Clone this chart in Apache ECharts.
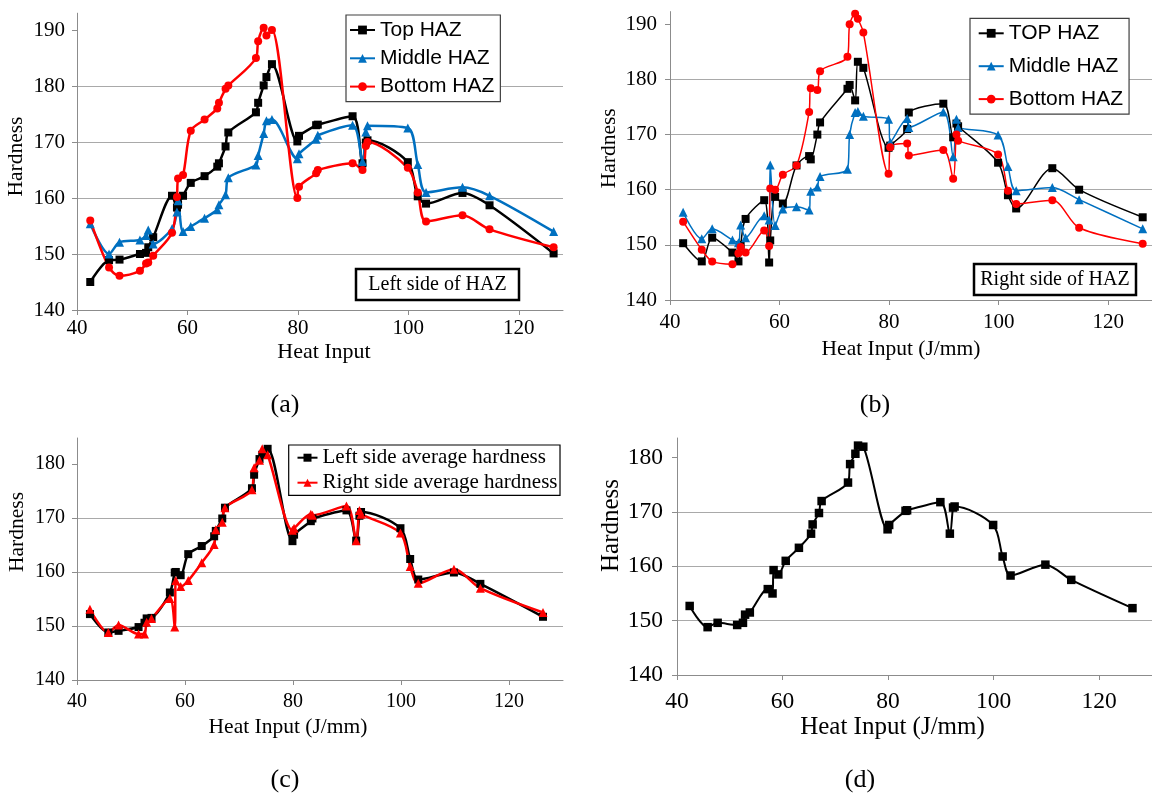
<!DOCTYPE html>
<html>
<head>
<meta charset="utf-8">
<title>HAZ hardness vs heat input</title>
<style>
  html, body { margin: 0; padding: 0; background: #fff; }
  #main { width: 1152px; height: 801px; }
</style>
</head>
<body>
<div id="main"></div>
<script src="https://cdn.jsdelivr.net/npm/echarts@6/dist/echarts.min.js"></script>
<script>
// heat input (J/mm) of the welds, shared by every curve
var heatInput = [42.4, 45.8, 47.7, 51.4, 52.5, 52.9, 53.8, 57.2, 58.1, 58.3, 59.2, 60.6, 63.1, 65.4, 65.7, 66.9, 67.4, 72.4, 72.8, 73.8, 74.3, 75.3, 79.9, 80.2, 83.3, 83.6, 89.9, 91.7, 92.3, 92.6, 99.9, 101.7, 103.2, 109.8, 114.7, 126.3];

// (a) left side of HAZ
var leftTop    = [145.0, 148.9, 149.0, 150.0, 150.2, 151.2, 153.0, 160.4, 158.3, 158.8, 160.4, 162.7, 163.9, 165.6, 166.2, 169.2, 171.7, 175.3, 177.0, 180.1, 181.6, 183.9, 170.1, 171.1, 173.0, 173.1, 174.6, 166.2, 169.9, 170.3, 166.4, 160.3, 159.0, 160.9, 158.7, 150.1];
var leftMiddle = [155.4, 150.0, 152.1, 152.5, 153.3, 154.3, 151.8, 154.5, 157.5, 159.5, 154.0, 154.9, 156.4, 157.9, 158.8, 160.6, 163.6, 165.9, 167.6, 171.5, 173.8, 174.0, 167.0, 167.9, 170.5, 171.2, 173.0, 166.5, 171.8, 172.9, 172.5, 166.0, 161.0, 161.9, 160.4, 154.0];
var leftBottom = [156.0, 147.6, 146.1, 147.0, 148.3, 148.5, 149.7, 153.8, 160.2, 163.5, 164.1, 172.0, 174.0, 176.0, 177.0, 179.5, 180.1, 185.0, 188.0, 190.4, 189.0, 190.0, 160.0, 162.0, 164.4, 165.0, 166.2, 165.0, 169.3, 170.0, 165.4, 161.0, 155.8, 156.9, 154.4, 151.2];

// (b) right side of HAZ
var rightTop    = [150.3, 147.0, 151.3, 148.6, 147.0, 150.0, 154.7, 158.1, 146.8, 150.8, 158.7, 157.5, 164.4, 166.1, 165.5, 170.0, 172.2, 178.3, 179.0, 176.2, 183.2, 182.1, 167.6, 168.0, 171.0, 174.0, 175.6, 169.5, 172.0, 171.5, 164.9, 159.0, 156.6, 163.9, 160.0, 155.0];
var rightMiddle = [155.9, 151.1, 152.9, 150.9, 150.4, 153.6, 151.3, 155.3, 154.5, 164.5, 153.5, 156.5, 156.9, 156.3, 159.7, 160.5, 162.4, 163.7, 170.0, 174.0, 174.2, 173.3, 172.8, 168.6, 172.9, 171.3, 174.1, 166.0, 172.8, 171.3, 169.9, 164.2, 159.8, 160.4, 158.2, 152.9];
var rightBottom = [154.2, 149.1, 147.0, 146.5, 148.5, 149.6, 148.6, 152.6, 149.8, 160.2, 160.0, 162.7, 164.4, 174.1, 178.4, 178.1, 181.5, 184.1, 190.0, 191.9, 191.0, 188.5, 162.9, 167.7, 168.4, 166.2, 167.2, 162.0, 170.0, 168.9, 166.4, 159.8, 157.4, 158.1, 153.1, 150.2];

// (c) side averages
var leftAvg  = [152.2, 148.8, 149.1, 149.8, 150.6, 151.4, 151.5, 156.2, 159.9, 160.0, 159.4, 163.3, 164.8, 166.6, 167.6, 169.9, 171.9, 175.5, 178.0, 180.9, 181.7, 182.8, 165.7, 166.9, 169.4, 169.9, 171.4, 165.8, 170.4, 171.1, 168.1, 162.4, 158.6, 159.9, 157.8, 151.7];
var rightAvg = [153.1, 148.8, 150.2, 148.5, 148.5, 150.7, 151.4, 155.1, 149.8, 158.4, 157.3, 158.4, 161.7, 165.1, 167.8, 169.2, 171.9, 175.2, 179.3, 180.7, 182.8, 181.7, 167.7, 168.1, 170.7, 170.5, 172.2, 165.8, 171.4, 170.7, 167.2, 161.0, 157.9, 160.5, 157.0, 152.5];

// (d) overall average
var overallAvg = [152.7, 148.8, 149.6, 149.2, 149.6, 151.1, 151.5, 155.8, 155.0, 159.3, 158.5, 161.0, 163.4, 166.0, 167.7, 169.8, 172.0, 175.4, 178.8, 180.7, 182.2, 182.0, 166.8, 167.6, 170.2, 170.3, 171.8, 166.0, 170.8, 171.0, 167.6, 161.8, 158.3, 160.3, 157.5, 152.3];

// tick labels
var xTicks = [40, 60, 80, 100, 120];
var yTicksTop = [140, 150, 160, 170, 180, 190];
var yTicksBottom = [140, 150, 160, 170, 180];

var serif = '"Liberation Serif", "Times New Roman", serif';
var sans = '"Liberation Sans", Arial, sans-serif';
var axisGray = '#8c8c8c';

var chart = echarts.init(document.getElementById('main'), null, { renderer: 'canvas' });

function xAxisFor(gi, max, o) {
  return {
    type: 'value', gridIndex: gi, min: 40, max: max,
    name: o.name, nameLocation: 'middle', nameGap: o.nameGap,
    nameTextStyle: { fontFamily: serif, fontSize: o.nameSize, color: '#000', padding: o.namePad },
    axisLine: { lineStyle: { color: axisGray, width: 1 } },
    axisTick: { show: true, length: 5, customValues: xTicks, lineStyle: { color: axisGray } },
    axisLabel: { customValues: xTicks, margin: o.margin, fontFamily: serif, fontSize: o.labelSize, color: '#000' },
    splitLine: { show: false }
  };
}

function yAxisFor(gi, max, ticks, o) {
  return {
    type: 'value', gridIndex: gi, min: 140, max: max,
    name: 'Hardness', nameLocation: 'middle', nameGap: o.nameGap,
    nameTextStyle: { fontFamily: serif, fontSize: o.nameSize, color: '#000', padding: o.namePad },
    axisLine: { show: true, lineStyle: { color: axisGray, width: 1 } },
    axisTick: { show: true, length: 5, customValues: ticks, lineStyle: { color: axisGray } },
    axisLabel: { customValues: ticks, margin: o.margin, fontFamily: serif, fontSize: o.labelSize, color: '#000' },
    splitLine: { show: true, showMaxLine: false, lineStyle: { color: '#a9a9a9', width: 1 } }
  };
}

function curve(name, gi, values, color, symbol, size, width) {
  return {
    name: name, type: 'line', xAxisIndex: gi, yAxisIndex: gi,
    data: heatInput.map(function (x, i) { return [x, values[i]]; }),
    smooth: 0.3, symbol: symbol, symbolSize: size, showAllSymbol: true,
    lineStyle: { color: color, width: width },
    itemStyle: { color: color },
    emphasis: { disabled: true }
  };
}

// names of (b) carry a suffix so its legend keeps its own thin lines
function dropSuffix(n) { return n.replace(' (b)', ''); }

var black = '#000000', blue = '#0070c0', red = '#ff0000';

var option = {
  animation: false,
  backgroundColor: '#ffffff',
  grid: [
    { left: 77, top: 13.2, width: 486, height: 296.8 },
    { left: 670, top: 11.6, width: 483, height: 288.4 },
    { left: 77, top: 438, width: 486, height: 242 },
    { left: 677, top: 438, width: 485, height: 237 }
  ],
  xAxis: [
    xAxisFor(0, 128, { name: 'Heat Input', nameGap: 31, nameSize: 22, namePad: [0, 0, 0, 8], margin: 8, labelSize: 21 }),
    xAxisFor(1, 128, { name: 'Heat Input (J/mm)', nameGap: 38, nameSize: 21.5, namePad: [0, 20, 0, 0], margin: 12, labelSize: 21 }),
    xAxisFor(2, 130, { name: 'Heat Input (J/mm)', nameGap: 36, nameSize: 21.5, namePad: [0, 64, 0, 0], margin: 12, labelSize: 20 }),
    xAxisFor(3, 130, { name: 'Heat Input (J/mm)', nameGap: 40, nameSize: 25, namePad: [0, 44, 0, 0], margin: 15, labelSize: 23.5 })
  ],
  yAxis: [
    yAxisFor(0, 193, yTicksTop, { nameGap: 50, nameSize: 21.5, namePad: [0, 0, 0, 10], margin: 12, labelSize: 21 }),
    yAxisFor(1, 192.3, yTicksTop, { nameGap: 50, nameSize: 21.5, namePad: [0, 0, 0, 15], margin: 13, labelSize: 21 }),
    yAxisFor(2, 184.8, yTicksBottom, { nameGap: 49, nameSize: 21.5, namePad: [0, 0, 0, 54], margin: 12, labelSize: 20 }),
    yAxisFor(3, 183.6, yTicksBottom, { nameGap: 52, nameSize: 25, namePad: [0, 0, 0, 62], margin: 14, labelSize: 23.5 })
  ],
  legend: [
    {
      data: ['Top HAZ', 'Middle HAZ', 'Bottom HAZ'],
      orient: 'vertical', left: 346, top: 15, selectedMode: false,
      padding: [4.5, 6, 4.5, 3], itemGap: 7.3, itemWidth: 25, itemHeight: 11,
      borderColor: '#404040', borderWidth: 1.2, backgroundColor: '#fff',
      textStyle: { fontFamily: sans, fontSize: 21, lineHeight: 21, color: '#000' }
    },
    {
      data: ['TOP HAZ', 'Middle HAZ (b)', 'Bottom HAZ (b)'],
      formatter: dropSuffix,
      orient: 'vertical', left: 970, top: 18.3, selectedMode: false,
      padding: [4.5, 6, 4.5, 7.7], itemGap: 11.9, itemWidth: 25, itemHeight: 11,
      borderColor: '#404040', borderWidth: 1.2, backgroundColor: '#fff',
      textStyle: { fontFamily: sans, fontSize: 21, lineHeight: 21, color: '#000' }
    },
    {
      data: ['Left side average hardness', 'Right side average hardness'],
      orient: 'vertical', left: 288.7, top: 445, selectedMode: false,
      padding: [2.2, 2.5, 2.2, 7.8], itemGap: 4, itemWidth: 20, itemHeight: 10,
      borderColor: '#000', borderWidth: 1.2, backgroundColor: '#fff',
      textStyle: { fontFamily: serif, fontSize: 21, lineHeight: 21, color: '#000' }
    }
  ],
  series: [
    curve('Top HAZ', 0, leftTop, black, 'rect', 8, 2.5),
    curve('Middle HAZ', 0, leftMiddle, blue, 'triangle', 9, 2.5),
    curve('Bottom HAZ', 0, leftBottom, red, 'circle', 8, 2.5),
    curve('TOP HAZ', 1, rightTop, black, 'rect', 8, 1.5),
    curve('Middle HAZ (b)', 1, rightMiddle, blue, 'triangle', 9, 1.5),
    curve('Bottom HAZ (b)', 1, rightBottom, red, 'circle', 8, 1.5),
    curve('Left side average hardness', 2, leftAvg, black, 'rect', 8, 2.5),
    curve('Right side average hardness', 2, rightAvg, red, 'triangle', 9, 2.5),
    curve('Average hardness', 3, overallAvg, black, 'rect', 8.5, 2)
  ],
  graphic: [
    // inset labels
    { type: 'rect', shape: { x: 356, y: 269, width: 163, height: 31 }, style: { fill: '#fff', stroke: '#000', lineWidth: 2.5 }, z: 50 },
    { type: 'text', x: 437.5, y: 284.5, style: { text: 'Left side of HAZ', font: '20px ' + serif, fill: '#000', align: 'center', verticalAlign: 'middle' }, z: 51 },
    { type: 'rect', shape: { x: 974, y: 264, width: 162, height: 31 }, style: { fill: '#fff', stroke: '#000', lineWidth: 2.5 }, z: 50 },
    { type: 'text', x: 1055, y: 279.5, style: { text: 'Right side of HAZ', font: '20px ' + serif, fill: '#000', align: 'center', verticalAlign: 'middle' }, z: 51 },
    // panel captions
    { type: 'text', x: 285, y: 405, style: { text: '(a)', font: '26px ' + serif, fill: '#000', align: 'center', verticalAlign: 'middle' } },
    { type: 'text', x: 875, y: 405, style: { text: '(b)', font: '26px ' + serif, fill: '#000', align: 'center', verticalAlign: 'middle' } },
    { type: 'text', x: 285, y: 780, style: { text: '(c)', font: '26px ' + serif, fill: '#000', align: 'center', verticalAlign: 'middle' } },
    { type: 'text', x: 860, y: 780, style: { text: '(d)', font: '26px ' + serif, fill: '#000', align: 'center', verticalAlign: 'middle' } }
  ]
};

chart.setOption(option);
</script>
</body>
</html>
